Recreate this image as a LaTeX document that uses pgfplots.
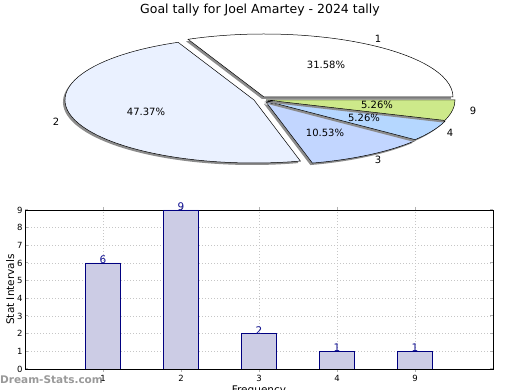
\documentclass[border=0pt]{standalone}
\usepackage{pgfplots}
\pgfplotsset{compat=1.18}
\usepackage{fontspec}
\setmainfont{DejaVu Sans}
\definecolor{sB}{HTML}{EAF1FF}
\definecolor{sC}{HTML}{C2D6FF}
\definecolor{sD}{HTML}{B5D7FF}
\definecolor{sE}{HTML}{CDE98A}
\definecolor{barfill}{HTML}{CCCCE5}
\definecolor{baredge}{HTML}{000080}
\definecolor{lbl}{HTML}{101090}
\definecolor{shadowc}{HTML}{8C8C8C}
% pie slice: cx, cy, start angle, end angle, colour
\newcommand\pieslice[5]{%
  \fill[shadowc, shift={(-2pt,-2pt)}] (axis cs:#1,#2) -- ++(#3:189pt and 63pt)
     arc[start angle=#3, end angle=#4, x radius=189pt, y radius=63pt] -- cycle;
  \filldraw[fill=#5, draw=black, line width=0.5pt] (axis cs:#1,#2) -- ++(#3:189pt and 63pt)
     arc[start angle=#3, end angle=#4, x radius=189pt, y radius=63pt] -- cycle;}
\begin{document}
\begin{tikzpicture}
% ---------------- pie (values 6, 9, 2, 1, 1 of 19) ----------------
\begin{axis}[at={(0pt,0pt)}, anchor=south west, scale only axis,
  x=1pt, y=1pt, xmin=0, xmax=520, ymin=0, ymax=390,
  hide axis, clip=false]
  % angles: cumulative 360*value/19
  \pieslice{264}{293}{0}{113.684}{white}
  \pieslice{254}{290}{113.684}{284.211}{sB}
  \pieslice{266}{288}{284.211}{322.105}{sC}
  \pieslice{266}{289}{322.105}{341.053}{sD}
  \pieslice{266}{290}{341.053}{360}{sE}
  \begin{scope}[font=\fontsize{10}{12}\selectfont]
  \node at (axis cs:326,325) {31.58\%};
  \node at (axis cs:146,278) {47.37\%};
  \node at (axis cs:325,257) {10.53\%};
  \node at (axis cs:364,272) {5.26\%};
  \node at (axis cs:377,285) {5.26\%};
  \node at (axis cs:378,351) {1};
  \node at (axis cs:56,268) {2};
  \node at (axis cs:378,230) {3};
  \node at (axis cs:450,257) {4};
  \node at (axis cs:473,279) {9};
  \end{scope}
  \node[font=\fontsize{12.5}{14}\selectfont] at (axis cs:260,380) {Goal tally for Joel Amartey - 2024 tally};
  \node[anchor=west, text=gray!80, font=\bfseries\fontsize{10.5}{12}\selectfont, inner sep=0pt] at (axis cs:0,10) {Dream-Stats.com};
\end{axis}
% ---------------- bars ----------------
\begin{axis}[at={(25pt,21pt)}, anchor=south west, scale only axis,
  width=468pt, height=159pt,
  /pgf/number format/assume math mode=true,
  xmin=0, xmax=6, ymin=0, ymax=9,
  xtick={1,2,3,4,5}, xticklabels={1,2,3,4,9},
  ytick={0,1,...,9},
  tick align=inside, major tick length=3pt,
  tick style={gray!60, line width=1pt},
  xticklabel style={font=\fontsize{8.5}{10}\selectfont},
  yticklabel style={font=\fontsize{8.5}{10}\selectfont, xshift=1pt},
  xtick pos=both, ytick pos=both,
  grid=major, grid style={dash pattern=on 1.2pt off 1.8pt, gray!45, line width=0.8pt},
  axis line style={line width=0.9pt},
  xlabel={Frequency}, ylabel={Stat Intervals},
  xlabel style={font=\fontsize{10.5}{12}\selectfont, yshift=3pt},
  ylabel style={font=\fontsize{10.5}{12}\selectfont, yshift=-4pt},
  ybar, bar width=0.45,
  nodes near coords,
  nodes near coords style={font=\fontsize{10.5}{12}\selectfont, text=lbl, inner sep=0pt, anchor=south, yshift=-1pt}]
  \addplot[fill=barfill, draw=baredge, line width=0.8pt] coordinates {(1,6) (2,9) (3,2) (4,1) (5,1)};
\end{axis}
\pgfresetboundingbox
\useasboundingbox (0pt,0pt) rectangle (520pt,390pt);
\end{tikzpicture}
\end{document}
